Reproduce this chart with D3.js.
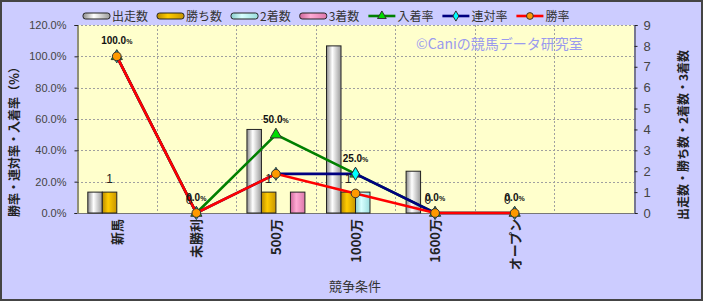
<!DOCTYPE html>
<html>
<head>
<meta charset="utf-8">
<script src="https://cdn.jsdelivr.net/npm/d3@7"></script>
<style>
  body { margin: 0; background: #fff; }
  svg { display: block; }
  text { font-family: "Noto Sans CJK JP", "Liberation Sans", sans-serif; }
</style>
</head>
<body>
<svg width="703" height="301"></svg>
<script>
(function (d3) {
  'use strict';

  // categories (last slot is an empty one, as in the original sheet)
  var categories = ['新馬', '未勝利', '500万', '1000万', '1600万', 'オープン', ''];

  // bar series (counts)
  var starts  = [1, 0, 4, 8, 2, 0];
  var wins    = [1, 0, 1, 1, 0, 0];
  var seconds = [0, 0, 0, 1, 0, 0];
  var thirds  = [0, 0, 1, 0, 0, 0];

  // line series (rates)
  var placeRate = [1, 0, 0.5, 0.25, 0, 0];
  var quinRate  = [1, 0, 0.25, 0.25, 0, 0];
  var winRate   = [1, 0, 0.25, 0.125, 0, 0];

  var leftTicks = [0, 0.2, 0.4, 0.6, 0.8, 1.0, 1.2];
  var rightTicks = [0, 1, 2, 3, 4, 5, 6, 7, 8, 9];

  var svg = d3.select('svg');
  var width = +svg.attr('width');
  var height = +svg.attr('height');

  var plot = { left: 77, right: 634, top: 25, bottom: 213 };

  var barSeries = [
    { name: '出走数', values: starts,  c0: '#8c8c8c', c1: '#ffffff', c2: '#9a9a9a' },
    { name: '勝ち数', values: wins,    c0: '#b88a00', c1: '#ffcc00', c2: '#c89600' },
    { name: '2着数',  values: seconds, c0: '#88cccc', c1: '#d8ffff', c2: '#99dddd' },
    { name: '3着数',  values: thirds,  c0: '#cc6699', c1: '#ffaad4', c2: '#dd77aa' }
  ];
  var lineSeries = [
    { name: '入着率', values: placeRate, color: '#008000', fill: '#00dd00', sym: d3.symbolTriangle, size: 55 },
    { name: '連対率', values: quinRate,  color: '#000080', fill: '#00ffff', sym: d3.symbolDiamond,  size: 50 },
    { name: '勝率',   values: winRate,   color: '#ff0000', fill: '#ff9900', sym: d3.symbolCircle,   size: 60 }
  ];

  // background + border
  svg.append('rect')
      .attr('x', 1).attr('y', 1)
      .attr('width', width - 2).attr('height', height - 2)
      .attr('fill', '#ccccff')
      .attr('stroke', '#444').attr('stroke-width', 2);

  // gradients for the bars
  var defs = svg.append('defs');
  barSeries.forEach(function (s, i) {
    var g = defs.append('linearGradient')
        .attr('id', 'grad' + i)
        .attr('x1', 0).attr('x2', 1).attr('y1', 0).attr('y2', 0);
    g.append('stop').attr('offset', '0%').attr('stop-color', s.c0);
    g.append('stop').attr('offset', '40%').attr('stop-color', s.c1);
    g.append('stop').attr('offset', '100%').attr('stop-color', s.c2);
  });

  // scales
  var x = d3.scaleBand()
      .domain(categories)
      .range([plot.left, plot.right]);
  var xSub = d3.scaleBand()
      .domain(barSeries.map(function (s) { return s.name; }))
      .range([0, x.bandwidth()])
      .paddingOuter(0.745);
  var yL = d3.scaleLinear().domain([0, 1.2]).range([plot.bottom, plot.top]);
  var yR = d3.scaleLinear().domain([0, 9]).range([plot.bottom, plot.top]);

  // plot area
  svg.append('rect')
      .attr('x', plot.left).attr('y', plot.top)
      .attr('width', plot.right - plot.left)
      .attr('height', plot.bottom - plot.top)
      .attr('fill', '#ffffcc');

  //grid lines
  var grid = svg.append('g')
      .attr('stroke', '#a0a0a0')
      .attr('stroke-dasharray', '2,2')
      .attr('stroke-width', 1);
  grid.selectAll('line.h')
      .data(leftTicks.slice(1))
      .enter()
      .append('line')
      .attr('x1', plot.left).attr('x2', plot.right)
      .attr('y1', function (d) { return Math.round(yL(d)) + 0.5; })
      .attr('y2', function (d) { return Math.round(yL(d)) + 0.5; });
  grid.selectAll('line.v')
      .data(categories.slice(1))
      .enter()
      .append('line')
      .attr('x1', function (d) { return Math.round(x(d)) + 0.5; })
      .attr('x2', function (d) { return Math.round(x(d)) + 0.5; })
      .attr('y1', plot.top).attr('y2', plot.bottom);

  // watermark
  svg.append('text')
      .attr('x', 416)
      .attr('y', 49)
      .attr('fill', '#9a9aee')
      .style('font-size', '14px')
      .text('©Caniの競馬データ研究室');

  // axes
  var leftAxis = d3.axisLeft(yL)
      .tickValues(leftTicks)
      .tickSize(3)
      .tickPadding(8)
      .tickFormat(function (d) { return (d * 100).toFixed(1) + '%'; });
  var gl = svg.append('g')
      .attr('transform', 'translate(' + (plot.left + 0.5) + ',0)')
      .call(leftAxis);
  gl.selectAll('text')
      .style('font-family', '"Liberation Sans", Arial, sans-serif')
      .style('font-size', '11px')
      .attr('fill', '#444');

  var rightAxis = d3.axisRight(yR)
      .tickValues(rightTicks)
      .tickSize(3)
      .tickPadding(6);
  var gr = svg.append('g')
      .attr('transform', 'translate(' + (plot.right + 0.5) + ',0)')
      .call(rightAxis);
  gr.selectAll('text')
      .style('font-family', '"Liberation Sans", Arial, sans-serif')
      .style('font-size', '13px')
      .attr('fill', '#444');
  [gl, gr].forEach(function (g) {
    g.select('.domain').attr('stroke', '#222');
    g.selectAll('.tick line').attr('stroke', '#222');
  });

  svg.append('line')
      .attr('x1', plot.left).attr('x2', plot.right)
      .attr('y1', plot.bottom + 0.5).attr('y2', plot.bottom + 0.5)
      .attr('stroke', '#777');

  // category labels (vertical)
  svg.append('g').selectAll('text')
      .data(categories)
      .enter()
      .append('text')
      .attr('transform', function (d) {
        return 'translate(' + (x(d) + x.bandwidth() / 2 + 5) + ',' + (plot.bottom + 6) + ') rotate(-90)';
      })
      .attr('text-anchor', 'end')
      .attr('fill', '#222')
      .style('font-size', '13px')
      .style('font-weight', 'bold')
      .text(function (d) { return d; });

  // axis titles
  svg.append('text')
      .attr('x', 355).attr('y', 291)
      .attr('text-anchor', 'middle')
      .attr('fill', '#333')
      .style('font-size', '13px')
      .text('競争条件');
  svg.append('text')
      .attr('transform', 'translate(19,139) rotate(-90)')
      .attr('text-anchor', 'middle')
      .attr('fill', '#222')
      .style('font-size', '12px')
      .style('font-weight', 'bold')
      .text('勝率・連対率・入着率（％）');
  svg.append('text')
      .attr('transform', 'translate(688,135) rotate(-90)')
      .attr('text-anchor', 'middle')
      .attr('fill', '#222')
      .style('font-size', '12px')
      .style('font-weight', 'bold')
      .text('出走数・勝ち数・2着数・3着数');

  //bars (zero values draw nothing)
  barSeries.forEach(function (s, i) {
    var pts = s.values.map(function (v, j) { return { v: v, cat: categories[j] }; })
        .filter(function (d) { return d.v > 0; });
    svg.append('g').selectAll('rect')
        .data(pts)
        .enter()
        .append('rect')
        .attr('x', function (d) { return x(d.cat) + xSub(s.name); })
        .attr('y', function (d) { return yR(d.v); })
        .attr('width', xSub.bandwidth())
        .attr('height', function (d) { return plot.bottom - yR(d.v); })
        .attr('fill', 'url(#grad' + i + ')')
        .attr('stroke', '#222')
        .attr('stroke-width', 1);
  });

  // lines + markers
  var cx = function (d, j) { return x(categories[j]) + x.bandwidth() / 2; };
  lineSeries.forEach(function (s) {
    var line = d3.line()
        .x(cx)
        .y(function (d) { return yL(d); });
    svg.append('path')
        .datum(s.values)
        .attr('d', line)
        .attr('fill', 'none')
        .attr('stroke', s.color)
        .attr('stroke-width', 2.6);
    svg.append('g').selectAll('path')
        .data(s.values)
        .enter()
        .append('path')
        .attr('transform', function (d, j) {
          return 'translate(' + cx(d, j) + ',' + yL(d) + ')';
        })
        .attr('d', d3.symbol().type(s.sym).size(s.size))
        .attr('fill', s.fill)
        .attr('stroke', '#333')
        .attr('stroke-width', 1);
  });

  // labels for wins (count) and place rate
  svg.append('g').selectAll('text')
      .data(wins)
      .enter()
      .append('text')
      .attr('x', function (d, j) { return x(categories[j]) + xSub('勝ち数') + xSub.bandwidth() / 2; })
      .attr('y', function (d) { return yR(d) - 9; })
      .attr('text-anchor', 'middle')
      .attr('fill', '#222')
      .style('font-family', '"Liberation Sans", Arial, sans-serif')
      .style('font-size', '12px')
      .text(function (d) { return d; });

  var rl = svg.append('g').selectAll('text')
      .data(placeRate)
      .enter()
      .append('text')
      .attr('x', cx)
      .attr('y', function (d) { return yL(d) - 12; })
      .attr('text-anchor', 'middle')
      .attr('fill', '#111')
      .style('font-family', '"Liberation Sans", Arial, sans-serif')
      .style('font-size', '10px')
      .style('font-weight', 'bold');
  rl.append('tspan').text(function (d) { return (d * 100).toFixed(1); });
  rl.append('tspan').style('font-size', '7px').text('%');

  // legend
  var legend = svg.append('g').attr('transform', 'translate(83,16)');
  var lx = 0;
  barSeries.concat(lineSeries).forEach(function (s, i) {
    var item = legend.append('g').attr('transform', 'translate(' + lx + ',0)');
    if (i < barSeries.length) {
      item.append('rect')
          .attr('x', 0).attr('y', -3)
          .attr('width', 27).attr('height', 6)
          .attr('rx', 2.5)
          .attr('fill', 'url(#grad' + i + ')')
          .attr('stroke', '#222');
    } else {
      item.append('line')
          .attr('x1', 0).attr('x2', 27)
          .attr('stroke', s.color).attr('stroke-width', 2.6);
      item.append('path')
          .attr('transform', 'translate(13.5,0)')
          .attr('d', d3.symbol().type(s.sym).size(s.size * 0.6))
          .attr('fill', s.fill)
          .attr('stroke', '#333');
    }
    var t = item.append('text')
        .attr('x', 29)
        .attr('y', 4.5)
        .attr('fill', '#333')
        .style('font-size', '12px')
        .text(s.name);
    lx += 29 + t.node().getComputedTextLength() + 9;
  });

}(d3));
</script>
</body>
</html>
